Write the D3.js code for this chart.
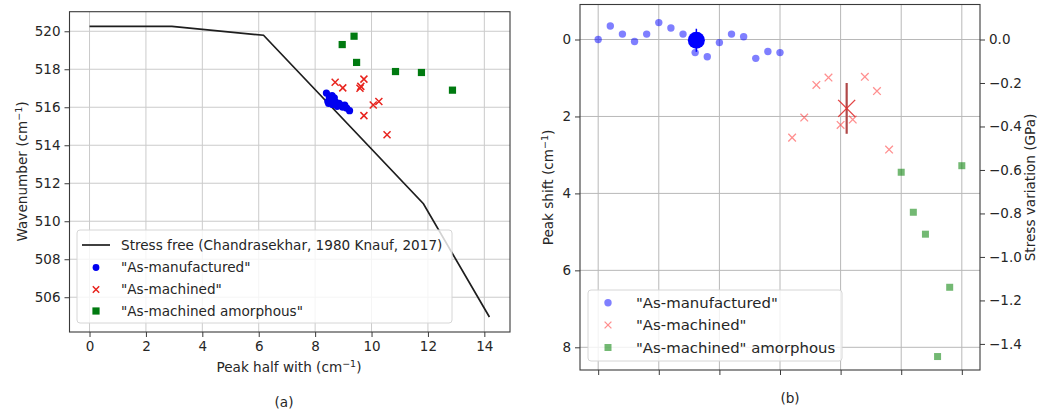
<!DOCTYPE html>
<html><head><meta charset="utf-8">
<script src="https://cdn.jsdelivr.net/npm/d3@7"></script>
<style>
body{margin:0;background:#fff;}
svg{display:block;font-family:"DejaVu Sans",sans-serif;}
</style></head>
<body><svg id="c" width="1046" height="414"></svg>
<script>
// ---------- Panel (a) data ----------
const lineX = [0, 2.92, 6.17, 11.84, 14.18];
const lineY = [520.26, 520.26, 519.79, 510.92, 504.96];
const aBlueX = [8.40, 8.45, 8.50, 8.48, 8.55, 8.60, 8.62, 8.68, 8.72, 8.78, 8.85, 8.92, 8.98, 9.05, 9.12, 9.22];
const aBlueY = [516.75, 516.30, 516.55, 516.20, 516.40, 516.62, 516.15, 516.50, 516.28, 516.05, 516.20, 516.10, 516.00, 516.12, 515.95, 515.82];
const aRedX = [8.71, 8.98, 9.59, 9.62, 9.73, 9.73, 10.06, 10.26, 10.55];
const aRedY = [517.32, 517.02, 517.00, 517.10, 517.48, 515.56, 516.12, 516.30, 514.55];
const aGreenX = [8.96, 9.38, 9.47, 10.85, 11.77, 12.87];
const aGreenY = [519.30, 519.74, 518.36, 517.88, 517.83, 516.90];
const aXTicks = [0, 2, 4, 6, 8, 10, 12, 14];
const aYTicks = [506, 508, 510, 512, 514, 516, 518, 520];

// ---------- Panel (b) data ----------
const bBlueIdx = [0,1,2,3,4,5,6,7,8,9,10,11,12,13,14,15];
const bBlueShift = [0.00, -0.35, -0.14, 0.05, -0.14, -0.44, -0.30, -0.14, 0.34, 0.45, 0.08, -0.14, -0.07, 0.49, 0.31, 0.34];
const bRedIdx = [16,17,18,19,20,21,22,23,24];
const bRedShift = [2.55, 2.03, 1.18, 0.99, 2.22, 2.08, 0.97, 1.34, 2.86];
const bGreenIdx = [25,26,27,28,29,30];
const bGreenShift = [3.45, 4.49, 5.06, 8.24, 6.44, 3.28];
const bBlueMean = [8.1, 0.02, 0.30];   // idx, shift, error
const bRedMean = [20.5, 1.79, 0.66];
const bXTicks = [0, 5, 10, 15, 20, 25, 30];
const bYTicks = [0, 2, 4, 6, 8];
const bY2Ticks = [0.0, -0.2, -0.4, -0.6, -0.8, -1.0, -1.2, -1.4];

const svg = d3.select("#c");
const TXT = "#262626", FRAME = "#3a3a3a";

function cmLabel(sel, prefix){
  sel.append("tspan").text(prefix + " (cm");
  sel.append("tspan").attr("dy", -5).attr("font-size", "0.7em").text("\u22121");
  sel.append("tspan").attr("dy", 5).text(")");
}
function xMark(g, cx, cy, h, color, w, op){
  g.append("path").attr("d", `M${cx-h},${cy-h}L${cx+h},${cy+h}M${cx-h},${cy+h}L${cx+h},${cy-h}`)
    .attr("stroke", color).attr("stroke-width", w).attr("fill","none").attr("opacity", op);
}

// ================= Panel (a) =================
{
  const GRID = "#cbcbcb";
  const L = 69.5, R = 510, T = 11.7, B = 332;
  const x = d3.scaleLinear().domain([-0.71, 14.91]).range([L, R]);
  const y = d3.scaleLinear().domain([504.17, 521.03]).range([B, T]);
  const g = svg.append("g");
  g.selectAll(".gx").data(aXTicks).enter().append("line")
    .attr("x1", d=>x(d)).attr("x2", d=>x(d)).attr("y1", T).attr("y2", B).attr("stroke", GRID).attr("stroke-width", 1);
  g.selectAll(".gy").data(aYTicks).enter().append("line")
    .attr("y1", d=>y(d)).attr("y2", d=>y(d)).attr("x1", L).attr("x2", R).attr("stroke", GRID).attr("stroke-width", 1);
  const ax = g.append("g").attr("transform", `translate(0,${B})`)
    .call(d3.axisBottom(x).tickValues(aXTicks).tickSize(5).tickPadding(4).tickFormat(d3.format("d")));
  const ay = g.append("g").attr("transform", `translate(${L},0)`)
    .call(d3.axisLeft(y).tickValues(aYTicks).tickSize(5).tickPadding(4).tickFormat(d3.format("d")));
  [ax, ay].forEach(a => {
    a.select(".domain").remove();
    a.selectAll("line").attr("stroke", FRAME);
    a.selectAll("text").attr("font-size", 13.5).attr("fill", TXT).attr("font-family", "DejaVu Sans");
  });
  const pts = lineX.map((v,i)=>[v, lineY[i]]);
  g.append("path").attr("d", d3.line().x(d=>x(d[0])).y(d=>y(d[1]))(pts))
    .attr("fill","none").attr("stroke","#1e1e1e").attr("stroke-width",1.7);
  aBlueX.forEach((v,i)=>g.append("circle").attr("cx", x(v)).attr("cy", y(aBlueY[i])).attr("r", 3.6).attr("fill","#0000f0"));
  aRedX.forEach((v,i)=>xMark(g, x(v), y(aRedY[i]), 3.5, "#e8241e", 1.5, 1));
  aGreenX.forEach((v,i)=>g.append("rect").attr("x", x(v)-3.6).attr("y", y(aGreenY[i])-3.6).attr("width",7.2).attr("height",7.2).attr("fill","#007a10"));
  g.append("rect").attr("x", L).attr("y", T).attr("width", R-L).attr("height", B-T)
    .attr("fill","none").attr("stroke", FRAME).attr("stroke-width", 1.1);
  const lg = g.append("g");
  lg.append("rect").attr("x", 77).attr("y", 230).attr("width", 375).attr("height", 93).attr("rx", 3)
    .attr("fill","#fff").attr("fill-opacity",0.8).attr("stroke","#d6d6d6").attr("stroke-width",1);
  const rows = [245, 267.5, 289.5, 311];
  const labels = ["Stress free (Chandrasekhar, 1980 Knauf, 2017)", "\"As-manufactured\"", "\"As-machined\"", "\"As-machined amorphous\""];
  lg.append("line").attr("x1", 82).attr("x2", 110).attr("y1", rows[0]).attr("y2", rows[0]).attr("stroke","#1e1e1e").attr("stroke-width",1.7);
  lg.append("circle").attr("cx", 96).attr("cy", rows[1]).attr("r", 3.4).attr("fill","#0000f0");
  xMark(lg, 96, rows[2], 3.2, "#e8241e", 1.5, 1);
  lg.append("rect").attr("x", 92.4).attr("y", rows[3]-3.6).attr("width",7.2).attr("height",7.2).attr("fill","#007a10");
  labels.forEach((t,i)=>lg.append("text").attr("x", 121).attr("y", rows[i]).attr("dy","0.35em")
    .attr("font-size", 13.6).attr("fill", TXT).text(t));
  const xl = g.append("text").attr("x", 289).attr("y", 372).attr("text-anchor","middle").attr("font-size",13.6).attr("fill",TXT);
  cmLabel(xl, "Peak half with");
  const yl = g.append("text").attr("transform","translate(27,171.5) rotate(-90)").attr("text-anchor","middle").attr("font-size",13.6).attr("fill",TXT);
  cmLabel(yl, "Wavenumber");
  g.append("text").attr("x", 284).attr("y", 407).attr("text-anchor","middle").attr("font-size",13.6).attr("fill",TXT).text("(a)");
}

// ================= Panel (b) =================
{
  const GRID = "#b8b8b8";
  const L = 580, R = 980, T = 4.5, B = 370;
  const x = d3.scaleLinear().domain([-1.5, 31.5]).range([L, R]);
  const y = d3.scaleLinear().domain([-0.91, 8.59]).range([T, B]);
  const y2 = d3.scaleLinear().domain([0.161, -1.52]).range([T, B]);
  const g = svg.append("g");
  g.selectAll(".gx").data(bXTicks).enter().append("line")
    .attr("x1", d=>x(d)).attr("x2", d=>x(d)).attr("y1", T).attr("y2", B).attr("stroke", GRID).attr("stroke-width", 1);
  g.selectAll(".gy").data(bYTicks).enter().append("line")
    .attr("y1", d=>y(d)).attr("y2", d=>y(d)).attr("x1", L).attr("x2", R).attr("stroke", GRID).attr("stroke-width", 1);
  const ax = g.append("g").attr("transform", `translate(0,${B})`)
    .call(d3.axisBottom(x).tickValues(bXTicks).tickSize(5).tickFormat(""));
  const ay = g.append("g").attr("transform", `translate(${L},0)`)
    .call(d3.axisLeft(y).tickValues(bYTicks).tickSize(5).tickPadding(4).tickFormat(d3.format("d")));
  const ay2 = g.append("g").attr("transform", `translate(${R},0)`)
    .call(d3.axisRight(y2).tickValues(bY2Ticks).tickSize(5).tickPadding(4).tickFormat(d => d3.format(".1f")(d).replace("-", "\u2212")));
  [ax, ay, ay2].forEach(a => {
    a.select(".domain").remove();
    a.selectAll("line").attr("stroke", FRAME);
    a.selectAll("text").attr("font-size", 13.5).attr("fill", TXT).attr("font-family", "DejaVu Sans");
  });
  bBlueIdx.forEach((v,i)=>g.append("circle").attr("cx", x(v)).attr("cy", y(bBlueShift[i])).attr("r", 3.7)
    .attr("fill","#0000ff").attr("fill-opacity",0.5));
  bRedIdx.forEach((v,i)=>xMark(g, x(v), y(bRedShift[i]), 3.8, "#ff2020", 1.3, 0.5));
  bGreenIdx.forEach((v,i)=>g.append("rect").attr("x", x(v)-3.5).attr("y", y(bGreenShift[i])-3.5).attr("width",7).attr("height",7)
    .attr("fill","#008000").attr("fill-opacity",0.55));
  g.append("line").attr("x1", x(bBlueMean[0])).attr("x2", x(bBlueMean[0]))
    .attr("y1", y(bBlueMean[1]-bBlueMean[2])).attr("y2", y(bBlueMean[1]+bBlueMean[2])).attr("stroke","#0000ff").attr("stroke-width",1.5);
  g.append("circle").attr("cx", x(bBlueMean[0])).attr("cy", y(bBlueMean[1])).attr("r", 8.5).attr("fill","#0000ff");
  g.append("line").attr("x1", x(bRedMean[0])).attr("x2", x(bRedMean[0]))
    .attr("y1", y(bRedMean[1]-bRedMean[2])).attr("y2", y(bRedMean[1]+bRedMean[2])).attr("stroke","#b04848").attr("stroke-width",2.2);
  xMark(g, x(bRedMean[0]), y(bRedMean[1]), 8.5, "#e03030", 1.4, 0.9);
  g.append("rect").attr("x", L).attr("y", T).attr("width", R-L).attr("height", B-T)
    .attr("fill","none").attr("stroke", FRAME).attr("stroke-width", 1.1);
  const lg = g.append("g");
  lg.append("rect").attr("x", 588).attr("y", 290).attr("width", 254).attr("height", 71).attr("rx", 3)
    .attr("fill","#fff").attr("fill-opacity",0.8).attr("stroke","#d6d6d6").attr("stroke-width",1);
  const rows = [302.7, 325, 347.5];
  const labels = ["\"As-manufactured\"", "\"As-machined\"", "\"As-machined\" amorphous"];
  lg.append("circle").attr("cx", 608).attr("cy", rows[0]).attr("r", 3.7).attr("fill","#0000ff").attr("fill-opacity",0.5);
  xMark(lg, 608, rows[1], 3.4, "#ff2020", 1.3, 0.5);
  lg.append("rect").attr("x", 604.5).attr("y", rows[2]-3.5).attr("width",7).attr("height",7).attr("fill","#008000").attr("fill-opacity",0.55);
  labels.forEach((t,i)=>lg.append("text").attr("x", 636).attr("y", rows[i]).attr("dy","0.35em")
    .attr("font-size", 14.9).attr("fill", TXT).text(t));
  const yl = g.append("text").attr("transform","translate(553,187.5) rotate(-90)").attr("text-anchor","middle").attr("font-size",13.6).attr("fill",TXT);
  cmLabel(yl, "Peak shift");
  g.append("text").attr("transform","translate(1035,187.5) rotate(-90)").attr("text-anchor","middle").attr("font-size",13.6).attr("fill",TXT)
    .text("Stress variation (GPa)");
  g.append("text").attr("x", 790).attr("y", 403).attr("text-anchor","middle").attr("font-size",13.6).attr("fill",TXT).text("(b)");
}
</script></body></html>
